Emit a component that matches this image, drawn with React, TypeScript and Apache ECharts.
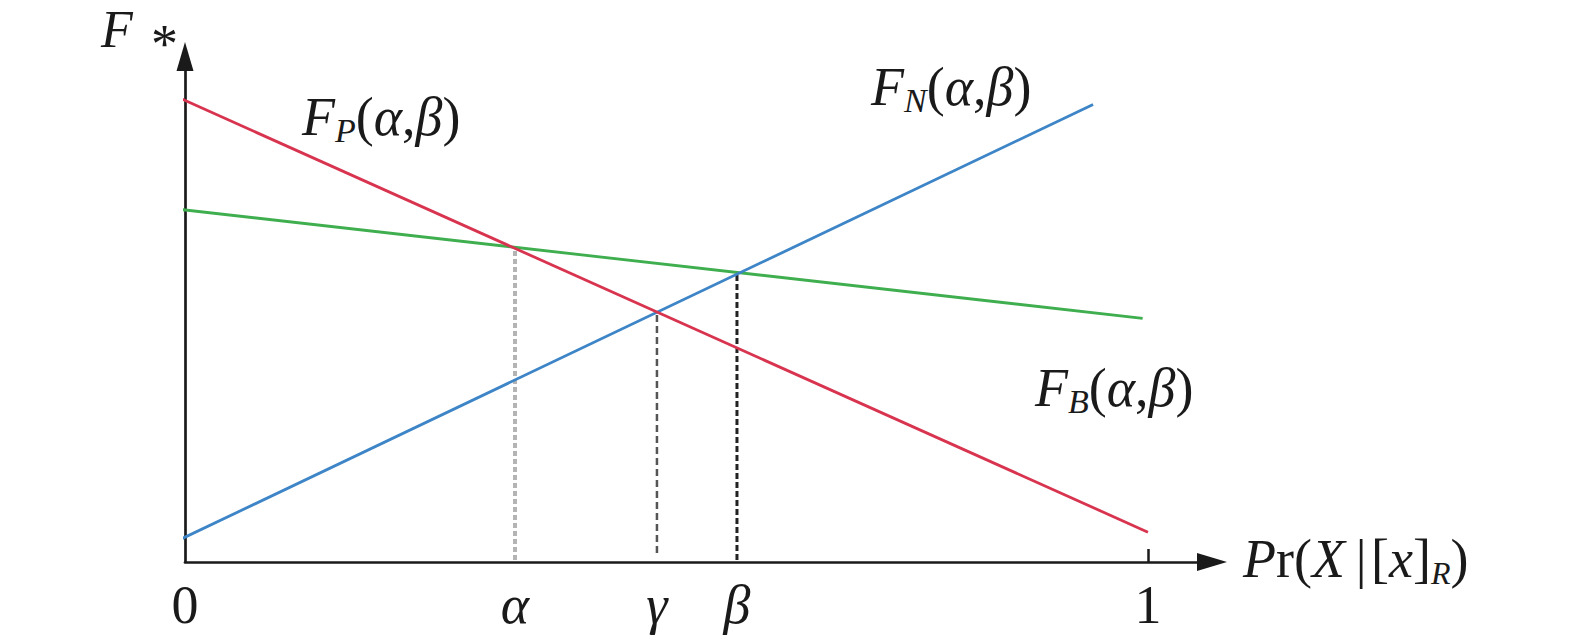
import React, { useEffect, useRef } from "react";
import * as echarts from "echarts";

// ---- data (x = Pr(X|[x]_R), y = F*) ----
const X_MAX = 1.0665;
const Y_MAX = 10;

const RED_LINE_FP = [[-0.0093, 9.21], [1.0, 0.59]];
const BLUE_LINE_FN = [[-0.0083, 0.415], [0.943, 9.05]];
const GREEN_LINE_FB = [[-0.0073, 6.98], [0.9945, 4.82]];

const ALPHA = 0.3427;
const GAMMA = 0.4901;
const BETA = 0.5732;

const ALPHA_DROP = [[ALPHA, 0.04], [ALPHA, 6.21]];
const GAMMA_DROP = [[GAMMA, 0.18], [GAMMA, 4.94]];
const BETA_DROP = [[BETA, 0.04], [BETA, 5.71]];

const TICK_VALUES = [0, ALPHA, GAMMA, BETA, 1];
const TICK_LABELS = ["0", "{g|α}", "{g|γ}", "{g|β}", "1"];

const FONT = "Liberation Serif";
const INK = "#1a1a1a";

const big = 54;

function richStyles(size: number, lh: number, subSize: number, subLH: number) {
  return {
    i: { fontStyle: "italic", fontSize: size, lineHeight: lh, fontFamily: FONT, fill: INK },
    n: { fontStyle: "normal", fontSize: size, lineHeight: lh, fontFamily: FONT, fill: INK },
    s: { fontStyle: "italic", fontSize: subSize, lineHeight: subLH, verticalAlign: "bottom", fontFamily: FONT, fill: INK },
  };
}

function textEl(x: number, y: number, text: string, subSize: number, subLH: number, lh = 60, size = big) {
  return {
    type: "text",
    x,
    y,
    silent: true,
    style: {
      text,
      rich: richStyles(size, lh, subSize, subLH),
      fontFamily: FONT,
      fontSize: size,
      lineHeight: lh,
      fill: INK,
      align: "left",
      verticalAlign: "top",
    },
  };
}

export default function App() {
  const ref = useRef<HTMLDivElement>(null);
  useEffect(() => {
    if (!ref.current) return;
    const chart = echarts.init(ref.current, null, { renderer: "svg" });
    const lineSeries = (data: number[][], color: string, z: number) => ({
      type: "line",
      data,
      showSymbol: false,
      clip: false,
      z,
      lineStyle: { color, width: 2.8 },
    });
    const dropSeries = (data: number[][], color: string, width: number, dash: number[]) => ({
      type: "line",
      data,
      showSymbol: false,
      clip: false,
      z: 1,
      lineStyle: { color, width, type: dash },
    });
    chart.setOption({
      animation: false,
      backgroundColor: "#ffffff",
      grid: { left: 185, right: 363, top: 56.5, bottom: 79 },
      xAxis: {
        type: "value",
        min: 0,
        max: X_MAX,
        splitLine: { show: false },
        axisLine: {
          show: true,
          onZero: false,
          symbol: ["none", "triangle"],
          symbolSize: [18, 30],
          lineStyle: { color: INK, width: 2.7 },
        },
        axisTick: {
          show: true,
          inside: true,
          length: 13,
          customValues: [1],
          lineStyle: { color: INK, width: 2.5 },
        },
        axisLabel: {
          show: true,
          customValues: TICK_VALUES,
          formatter: (v: number) => {
            const i = TICK_VALUES.findIndex((t) => Math.abs(t - v) < 1e-6);
            return i >= 0 ? TICK_LABELS[i] : "";
          },
          margin: 13,
          fontSize: big,
          lineHeight: 60,
          fontFamily: FONT,
          color: INK,
          rich: {
            g: { fontStyle: "italic", fontSize: big, lineHeight: 60, fontFamily: FONT, color: INK },
          },
        },
      },
      yAxis: {
        type: "value",
        min: 0,
        max: Y_MAX,
        splitLine: { show: false },
        axisLine: {
          show: true,
          onZero: false,
          symbol: ["none", "triangle"],
          symbolSize: [17, 29],
          lineStyle: { color: INK, width: 2.7 },
        },
        axisTick: { show: false },
        axisLabel: { show: false },
      },
      series: [
        dropSeries(ALPHA_DROP, "#b4b4b4", 4, [5, 3]),
        dropSeries(GAMMA_DROP, "#555555", 2.5, [7, 4]),
        dropSeries(BETA_DROP, "#222222", 3, [6, 3]),
        lineSeries(GREEN_LINE_FB, "#3fae4f", 3),
        lineSeries(BLUE_LINE_FN, "#3d85c6", 4),
        lineSeries(RED_LINE_FP, "#d8344f", 5),
      ],
      graphic: [
        textEl(101, 3.5, "{i|F}", 34, 34, 52, 52),
        textEl(151, 14, "{n|*}", 34, 34),
        textEl(302, 87, "{i|F}{s|P}{n|(}{i|α}{n|,}{i|β}{n|)}", 34, 28),
        textEl(871, 57, "{i|F}{s|N}{n|(}{i|α}{n|,}{i|β}{n|)}", 34, 28),
        textEl(1035, 358, "{i|F}{s|B}{n|(}{i|α}{n|,}{i|β}{n|)}", 34, 28),
        textEl(1243, 529, "{i|P}{n|r(}{i|X}{n|\u2009|\u200A[}{i|x}{n|]}{s|R}{n|)}", 32, 23),
      ],
    });
    return () => chart.dispose();
  }, []);
  return (
    <div
      ref={ref}
      style={{ position: "absolute", left: 0, top: 0, width: 1575, height: 641, background: "#fff" }}
    />
  );
}
